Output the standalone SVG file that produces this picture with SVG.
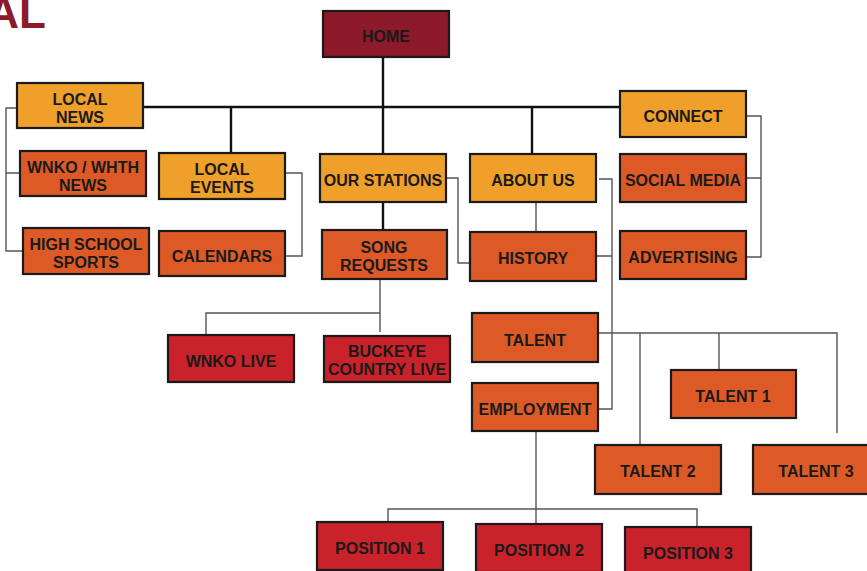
<svg xmlns="http://www.w3.org/2000/svg" width="867" height="571" viewBox="0 0 867 571">
<style>
.b{stroke:#1a1a1a;stroke-width:2.2}
.home{fill:#8c1a2a}
.gold{fill:#efa02a}
.org{fill:#dd5a27}
.red{fill:#c9222b}
text{font-family:"Liberation Sans",Arial,sans-serif;font-weight:bold;font-size:16px;fill:#1a1a1a;text-anchor:middle}
.thick{stroke:#111;stroke-width:2.4;fill:none}
.thin{stroke:#555;stroke-width:1.4;fill:none}
</style>
<rect width="867" height="571" fill="#fff"/>
<text x="46" y="28" style="font-size:44px;fill:#8c1a2b;text-anchor:end">AL</text>
<g id="connectors">
<path class="thick" d="M383,57V154M143,107H620M231,107V153M532,107V154M383,202V230"/>
<path class="thin" d="M17,108H6V251H23M6,173H20"/>
<path class="thin" d="M285,173H302V256H285"/>
<path class="thin" d="M446,178H458V263H470"/>
<path class="thin" d="M536,202V232"/>
<path class="thin" d="M599,179H612V409H598M596,256H612"/>
<path class="thin" d="M746,116H761V257H746M746,178H761"/>
<path class="thin" d="M380,279V332M380,313H206V335"/>
<path class="thin" d="M598,333H837V433M640,333V445M719,333V370"/>
<path class="thin" d="M536,431V524M388,522V509H697V527"/>
</g>
<g id="home"><rect class="b home" x="323" y="11" width="126" height="46"/><text x="386" y="42">HOME</text></g>
<g id="local-news"><rect class="b gold" x="17" y="83" width="126" height="45"/><text x="80" y="105">LOCAL</text><text x="80" y="123">NEWS</text></g>
<g id="connect"><rect class="b gold" x="620" y="91" width="126" height="46"/><text x="683" y="122">CONNECT</text></g>
<g id="wnko-whth-news"><rect class="b org" x="20" y="151" width="126" height="45"/><text x="83" y="173">WNKO / WHTH</text><text x="83" y="191">NEWS</text></g>
<g id="high-school-sports"><rect class="b org" x="23" y="228" width="126" height="46"/><text x="86" y="250">HIGH SCHOOL</text><text x="86" y="268">SPORTS</text></g>
<g id="local-events"><rect class="b gold" x="159" y="153" width="126" height="46"/><text x="222" y="175">LOCAL</text><text x="222" y="193">EVENTS</text></g>
<g id="calendars"><rect class="b org" x="159" y="231" width="126" height="45"/><text x="222" y="262">CALENDARS</text></g>
<g id="our-stations"><rect class="b gold" x="320" y="154" width="126" height="48"/><text x="383" y="186">OUR STATIONS</text></g>
<g id="song-requests"><rect class="b org" x="322" y="230" width="125" height="49"/><text x="384" y="253">SONG</text><text x="384" y="271">REQUESTS</text></g>
<g id="about-us"><rect class="b gold" x="470" y="154" width="126" height="48"/><text x="533" y="186">ABOUT US</text></g>
<g id="history"><rect class="b org" x="470" y="232" width="126" height="49"/><text x="533" y="264">HISTORY</text></g>
<g id="social-media"><rect class="b org" x="620" y="154" width="126" height="48"/><text x="683" y="186">SOCIAL MEDIA</text></g>
<g id="advertising"><rect class="b org" x="620" y="231" width="126" height="48"/><text x="683" y="263">ADVERTISING</text></g>
<g id="wnko-live"><rect class="b red" x="168" y="335" width="126" height="47"/><text x="231" y="367">WNKO LIVE</text></g>
<g id="buckeye-country-live"><rect class="b red" x="324" y="336" width="126" height="46"/><text x="387" y="357">BUCKEYE</text><text x="387" y="375">COUNTRY LIVE</text></g>
<g id="talent"><rect class="b org" x="472" y="313" width="126" height="49"/><text x="535" y="346">TALENT</text></g>
<g id="employment"><rect class="b org" x="472" y="383" width="126" height="48"/><text x="535" y="415">EMPLOYMENT</text></g>
<g id="talent-1"><rect class="b org" x="671" y="370" width="125" height="48"/><text x="733" y="402">TALENT 1</text></g>
<g id="talent-2"><rect class="b org" x="595" y="445" width="126" height="49"/><text x="658" y="477">TALENT 2</text></g>
<g id="talent-3"><rect class="b org" x="753" y="445" width="126" height="49"/><text x="816" y="477">TALENT 3</text></g>
<g id="position-1"><rect class="b red" x="317" y="522" width="126" height="48"/><text x="380" y="554">POSITION 1</text></g>
<g id="position-2"><rect class="b red" x="476" y="524" width="126" height="48"/><text x="539" y="556">POSITION 2</text></g>
<g id="position-3"><rect class="b red" x="625" y="527" width="126" height="48"/><text x="688" y="559">POSITION 3</text></g>
</svg>
